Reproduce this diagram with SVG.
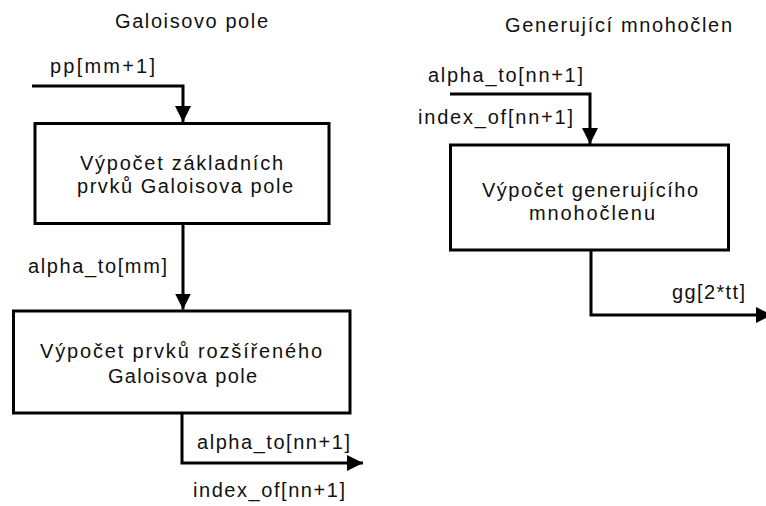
<svg xmlns="http://www.w3.org/2000/svg" width="766" height="506" viewBox="0 0 766 506">
  <defs>
    <marker id="arrow" markerUnits="userSpaceOnUse" markerWidth="17" markerHeight="17" refX="16" refY="8" orient="auto">
      <path d="M0,0 L16,8 L0,16 Z" fill="#000"/>
    </marker>
    <style>
      .box { fill: #fff; stroke: #000; stroke-width: 3; }
      .wire { fill: none; stroke: #000; stroke-width: 3; stroke-linejoin: miter; marker-end: url(#arrow); }
      text { font-family: "Liberation Sans", Arial, sans-serif; font-size: 20px; fill: #111; }
    </style>
  </defs>
  <rect width="766" height="506" fill="#fff"/>

  <!-- section titles -->
  <text x="115" y="28" textLength="153" lengthAdjust="spacing">Galoisovo pole</text>
  <text x="505" y="32" textLength="227" lengthAdjust="spacing">Generující mnohočlen</text>

  <!-- connectors -->
  <g id="connectors">
    <polyline class="wire" points="32,86 183,86 183,122"/>
    <polyline class="wire" points="183,224 183,309.5"/>
    <polyline class="wire" points="182,413 182,463 363,463"/>
    <polyline class="wire" points="450,94 590,94 590,144"/>
    <polyline class="wire" points="591,250 591,315 772,315"/>
  </g>

  <!-- connector labels -->
  <g id="labels">
    <text x="50" y="73" textLength="105" lengthAdjust="spacing">pp[mm+1]</text>
    <text x="28" y="273" textLength="139" lengthAdjust="spacing">alpha_to[mm]</text>
    <text x="197" y="449" textLength="153" lengthAdjust="spacing">alpha_to[nn+1]</text>
    <text x="193" y="497" textLength="152" lengthAdjust="spacing">index_of[nn+1]</text>
    <text x="428" y="82" textLength="155" lengthAdjust="spacing">alpha_to[nn+1]</text>
    <text x="418" y="124" textLength="155" lengthAdjust="spacing">index_of[nn+1]</text>
    <text x="672" y="299" textLength="73" lengthAdjust="spacing">gg[2*tt]</text>
  </g>

  <!-- Galois field base elements -->
  <g id="node-zakladni">
    <rect class="box" x="35" y="123.5" width="294" height="100"/>
    <text x="80" y="170" textLength="203" lengthAdjust="spacing">Výpočet základních</text>
    <text x="77" y="193" textLength="216" lengthAdjust="spacing">prvků Galoisova pole</text>
  </g>

  <!-- extended Galois field elements -->
  <g id="node-rozsireni">
    <rect class="box" x="13.5" y="311" width="336.5" height="102"/>
    <text x="40" y="358" textLength="282" lengthAdjust="spacing">Výpočet prvků rozšířeného</text>
    <text x="108" y="383" textLength="149" lengthAdjust="spacing">Galoisova pole</text>
  </g>

  <!-- generator polynomial -->
  <g id="node-generujici">
    <rect class="box" x="450.5" y="145" width="278" height="105"/>
    <text x="482" y="197" textLength="216" lengthAdjust="spacing">Výpočet generujícího</text>
    <text x="529" y="220" textLength="126" lengthAdjust="spacing">mnohočlenu</text>
  </g>
</svg>
